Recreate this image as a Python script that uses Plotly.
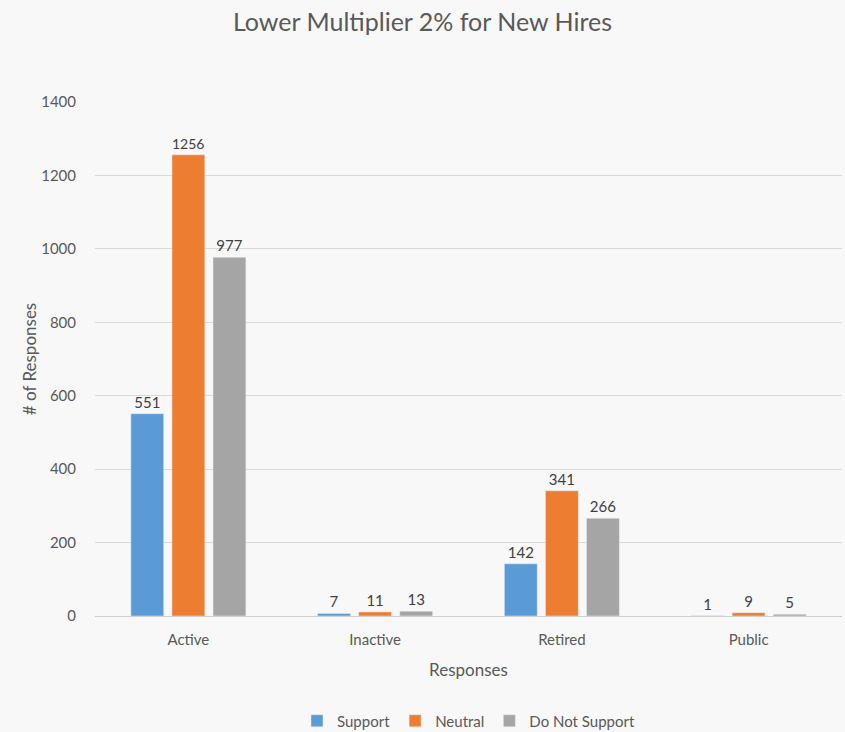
import plotly.graph_objects as go

categories = ['Active', 'Inactive', 'Retired', 'Public']
support = [551, 7, 142, 1]
neutral = [1256, 11, 341, 9]
do_not_support = [977, 13, 266, 5]

series = [('Support', support, '#5B9BD5'),
          ('Neutral', neutral, '#ED7D31'),
          ('Do Not Support', do_not_support, '#A5A5A5')]

fnt = 'Lato, Calibri, Arial, sans-serif'

fig = go.Figure()
for name, vals, col in series:
    fig.add_trace(go.Bar(x=categories, y=vals, name=name, marker_color=col,
                         text=vals, textposition='outside', cliponaxis=False,
                         textfont=dict(color='#404040', size=15, family=fnt)))

fig.update_layout(
    width=845, height=732,
    margin=dict(l=95, r=3, t=102, b=116),
    paper_bgcolor='#f8f8f8', plot_bgcolor='rgba(0,0,0,0)',
    font=dict(family=fnt, color='#595959', size=15),
    title=dict(text='Lower Multiplier 2% for New Hires', x=0.5, xanchor='center',
               y=0.97, yanchor='middle', font=dict(size=25, color='#595959')),
    barmode='group', bargap=0.34, bargroupgap=0.2,
    legend=dict(orientation='h', x=0.5, xanchor='center', yref='container',
                y=0.015, yanchor='middle',
                font=dict(size=15, color='#595959'), itemwidth=30,
                bgcolor='rgba(0,0,0,0)'),
    showlegend=True,
)
fig.update_yaxes(range=[0, 1400], dtick=200, gridcolor='#d9d9d9', gridwidth=1,
                 zeroline=False, showline=False, ticks='', ticklabelstandoff=18,
                 title=dict(text='# of Responses', font=dict(size=17), standoff=0))
fig.update_xaxes(showline=True, linecolor='#d0d0d0', linewidth=1, ticks='',
                 ticklabelstandoff=10,
                 title=dict(text='Responses', font=dict(size=17), standoff=17))

fig.write_html('out.html', config={'displayModeBar': False},
               post_script="document.body.style.margin='0';")
